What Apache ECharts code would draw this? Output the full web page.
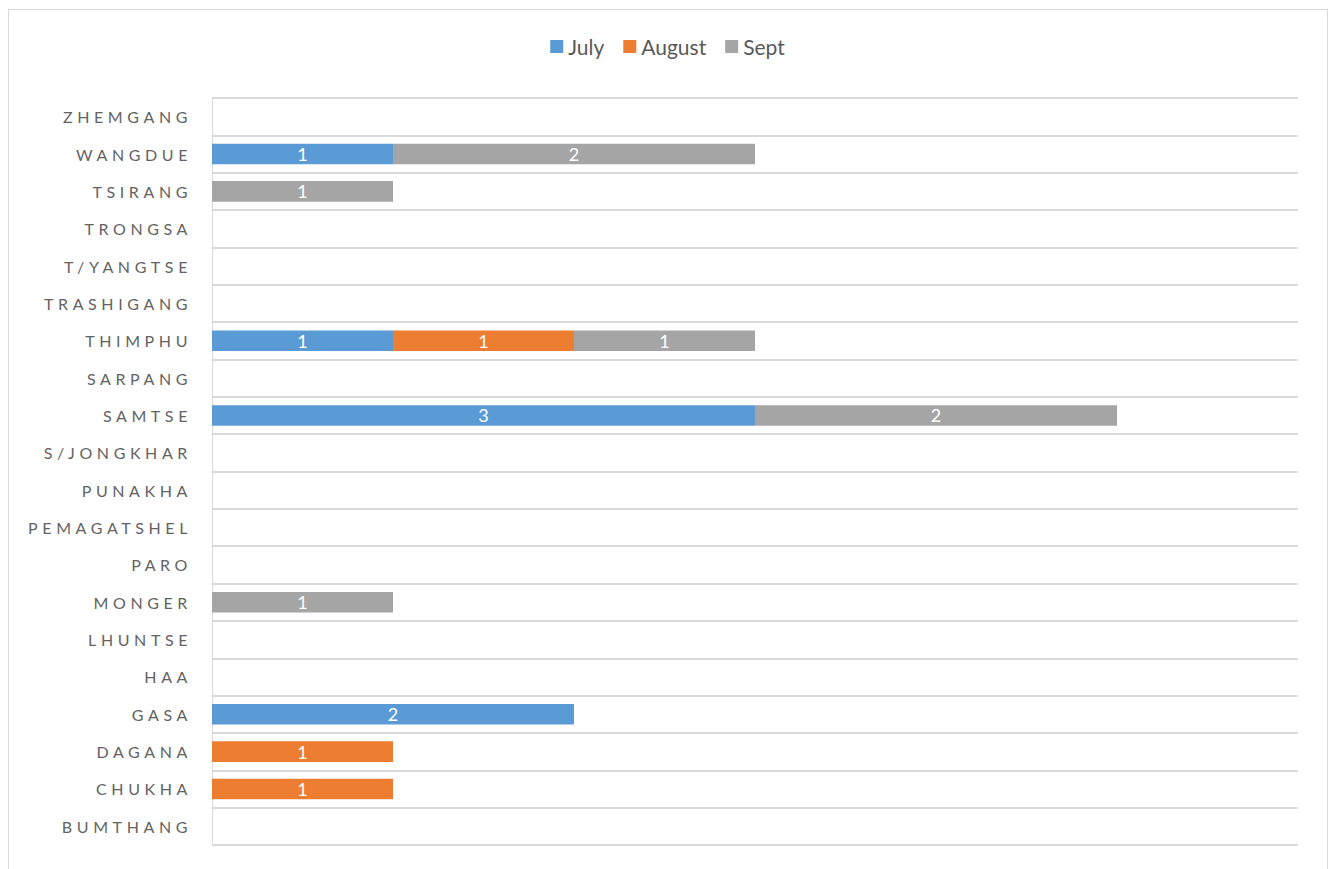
<!DOCTYPE html>
<html>
<head>
<meta charset="utf-8">
<script src="https://cdn.jsdelivr.net/npm/echarts@6/dist/echarts.min.js"></script>
<style>
  html, body { margin: 0; padding: 0; background: #fff; }
  #chart { width: 1335px; height: 869px; }
</style>
</head>
<body>
<div id="chart"></div>
<script>
// districts, bottom to top as they appear on the axis
var districts = ['BUMTHANG', 'CHUKHA', 'DAGANA', 'GASA', 'HAA', 'LHUNTSE', 'MONGER', 'PARO',
  'PEMAGATSHEL', 'PUNAKHA', 'S/JONGKHAR', 'SAMTSE', 'SARPANG', 'THIMPHU', 'TRASHIGANG',
  'T/YANGTSE', 'TRONGSA', 'TSIRANG', 'WANGDUE', 'ZHEMGANG'];
var july   = [0, 0, 0, 2, 0, 0, 0, 0, 0, 0, 0, 3, 0, 1, 0, 0, 0, 0, 1, 0];
var august = [0, 1, 1, 0, 0, 0, 0, 0, 0, 0, 0, 0, 0, 1, 0, 0, 0, 0, 0, 0];
var sept   = [0, 0, 0, 0, 0, 0, 1, 0, 0, 0, 0, 2, 0, 1, 0, 0, 0, 1, 2, 0];

var fontName = 'Lato, "Open Sans", sans-serif';

function barSeries(name, data, color) {
  return {
    name: name,
    type: 'bar',
    stack: 'total',
    barWidth: '55%',
    data: data,
    itemStyle: { color: color },
    label: {
      show: true,
      position: 'inside',
      color: '#fff',
      fontFamily: fontName,
      fontSize: 18,
      formatter: function (p) { return p.value ? String(p.value) : ''; }
    }
  };
}

var myChart = echarts.init(document.getElementById('chart'), null, { renderer: 'svg' });

var option = {
  animation: false,
  textStyle: { fontFamily: fontName },
  color: ['#5b9bd5', '#ed7d31', '#a5a5a5'],
  graphic: [{
    type: 'rect',
    shape: { x: 8.5, y: 9.5, width: 1319, height: 900 },
    style: { fill: 'none', stroke: '#d9d9d9', lineWidth: 1 },
    silent: true
  }],
  legend: {
    top: 31,
    left: 'center',
    itemWidth: 13,
    itemHeight: 13,
    itemGap: 19,
    icon: 'rect',
    textStyle: { color: '#595959', fontSize: 21, fontFamily: fontName },
    data: ['July', 'August', 'Sept']
  },
  grid: {
    left: 212,
    right: 37,
    top: 98,
    bottom: 24,
    containLabel: false
  },
  xAxis: {
    type: 'value',
    min: 0,
    max: 6,
    interval: 1,
    axisLabel: { show: false },
    axisLine: { show: false },
    axisTick: { show: false },
    splitLine: { show: false }
  },
  yAxis: {
    type: 'category',
    data: districts,
    boundaryGap: true,
    axisLine: { show: true, lineStyle: { color: '#d9d9d9', width: 1 } },
    axisTick: { show: false },
    axisLabel: {
      color: '#636363',
      fontSize: 16,
      fontFamily: fontName,
      margin: 20
    },
    splitLine: { show: true, lineStyle: { color: '#d9d9d9', width: 2 } }
  },
  series: [
    barSeries('July', july, '#5b9bd5'),
    barSeries('August', august, '#ed7d31'),
    barSeries('Sept', sept, '#a5a5a5')
  ]
};

myChart.setOption(option);

// Excel-style spaced district names
function spaceLabels() {
  var texts = document.querySelectorAll('#chart svg text');
  texts.forEach(function (t) {
    if (districts.indexOf(t.textContent) >= 0) {
      t.style.letterSpacing = '4.6px';
    }
  });
}
myChart.on('finished', spaceLabels);
spaceLabels();
</script>
</body>
</html>
